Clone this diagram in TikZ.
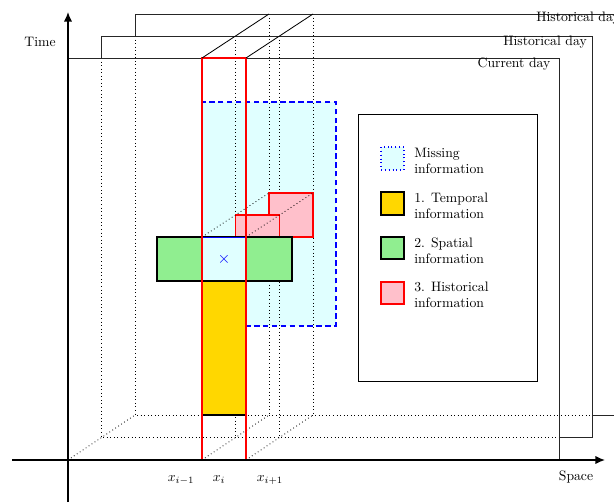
\documentclass[tikz,border=0pt]{standalone}
\usetikzlibrary{arrows.meta}
\definecolor{mcyan}{HTML}{E0FFFF}
\definecolor{mgold}{HTML}{FFD700}
\definecolor{mgreen}{HTML}{90EE90}
\definecolor{mpink}{HTML}{FFC0CB}
\begin{document}
\begin{tikzpicture}[x=0.73pt,y=-0.73pt,font=\fontsize{10}{12}\selectfont]
\tikzset{
  frame/.style={line width=0.5pt, draw=black!85},
  hid/.style={dotted, line width=0.6pt},
  lbl/.style={inner sep=0pt},
  legtxt/.style={inner sep=0pt, anchor=west, align=left},
  swatch/.style={line width=0.8pt},
}
\useasboundingbox (0,0) rectangle (614,502);
% missing region (cyan)
\fill[mcyan] (202,102) rectangle (336,326);
% hidden vertical edges of the column in the historical days
\draw[hid] (235.5,36) -- (235.5,437.5);
\draw[hid] (279.5,36) -- (279.5,437.5);
\draw[hid] (269,14) -- (269,415);
\draw[hid] (313,14) -- (313,415);
% back historical day frame
\draw[frame] (135,36) -- (135,14) -- (640,14);
\draw[hid] (135,36) -- (135,415) -- (592.5,415);
\draw[frame] (592.5,415) -- (640,415);
% middle historical day frame
\draw[frame] (101.5,58) -- (101.5,36) -- (592.5,36) -- (592.5,437.5) -- (559,437.5);
\draw[hid] (101.5,58) -- (101.5,437.5) -- (559,437.5);
% current day frame
\draw[frame] (68,58) -- (559,58) -- (559,460);
% depth lines at the bottom
\draw[hid] (68,460) -- (101.5,437.5) -- (135,415);
\draw[hid] (202,460) -- (269,415);
\draw[hid] (246,460) -- (313,415);
% missing region border
\draw[blue, line width=1.2pt, dash pattern=on 4pt off 2.5pt] (202,102) rectangle (336,326);
% historical information
\draw[red, fill=mpink, line width=0.8pt] (269,193) rectangle (313,237);
\draw[red, fill=mpink, line width=0.8pt] (235.5,215) rectangle (279.5,259);
\draw[hid] (202,237) -- (269,193);
\draw[hid] (246,237) -- (313,193);
% spatial information (cross)
\draw[black, line width=1pt, fill=mgreen] (157,237) rectangle (292,281);
\draw[blue, line width=0.6pt, fill=mcyan] (202,237) rectangle (246,281);
\node[lbl, blue, font=\fontsize{12}{14}\selectfont] (cross) at (224,259) {$\times$};
% temporal information
\draw[black, line width=0.8pt, fill=mgold] (202,281) rectangle (246,415);
% red column
\draw[red, line width=1.5pt] (202,58) rectangle (246,460);
\draw[line width=0.6pt] (202,58) -- (269,14);
\draw[line width=0.6pt] (246,58) -- (313,14);
% axes
\draw[line width=0.9pt, -{Latex[length=7pt,width=6pt]}] (12,460) -- (605,460);
\draw[line width=0.9pt, -{Latex[length=7pt,width=6pt]}] (68,502) -- (68,12);
% labels
\node[lbl] (time) at (40,42) {Time};
\node[lbl] (space) at (576,477) {Space};
\node[lbl] (cur) at (514,64) {Current day};
\node[lbl] (hist1) at (545,42) {Historical day};
\node[lbl, anchor=west] (hist2) at (536,18) {Historical day};
\node[lbl] (xim) at (181,480) {$x_{i-1}$};
\node[lbl] (xi) at (219,480) {$x_{i}$};
\node[lbl] (xip) at (270,480) {$x_{i+1}$};
% legend
\draw[line width=0.6pt] (358,114) rectangle (537,381);
\draw[swatch, blue, dotted, line width=1.1pt, fill=mcyan] (381,147) rectangle (404,170);
\draw[swatch, black, fill=mgold] (381,192) rectangle (404,215);
\draw[swatch, black, fill=mgreen] (381,237) rectangle (404,259);
\draw[swatch, red, fill=mpink] (381,282) rectangle (404,304);
\node[legtxt] (l1) at (414,161) {Missing\\information};
\node[legtxt] (l2) at (414,206) {1. Temporal\\information};
\node[legtxt] (l3) at (414,250.5) {2. Spatial\\information};
\node[legtxt] (l4) at (414,295) {3. Historical\\information};
\end{tikzpicture}
\end{document}
